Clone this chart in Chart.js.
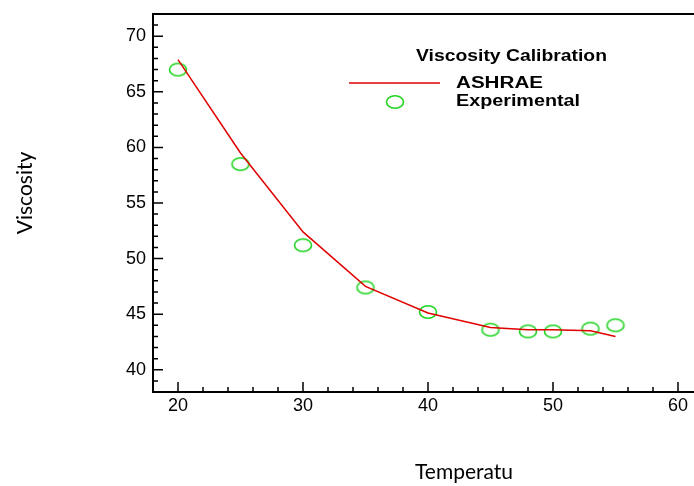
<!DOCTYPE html>
<html>
<head>
<meta charset="utf-8">
<script src="https://cdn.jsdelivr.net/npm/chart.js@4.4.0/dist/chart.umd.min.js"></script>
<style>
  html, body { margin: 0; padding: 0; background: #fff; overflow: hidden; }
  #wrap { width: 712px; height: 486px; }
</style>
</head>
<body>
<div id="wrap"><canvas id="viscChart" width="712" height="486"></canvas></div>
<script>
// temperatures / viscosity
const ashraeTemp = [20, 25, 30, 35, 40, 45, 48, 50, 53, 55];
const ashraeVisc = [67.9, 59.5, 52.4, 47.5, 45.1, 43.8, 43.6, 43.6, 43.5, 43.0];
const expTemp = [20, 25, 30, 35, 40, 45, 48, 50, 53, 55];
const expVisc = [67.0, 58.5, 51.2, 47.4, 45.2, 43.6, 43.45, 43.45, 43.7, 44.0];
const xTickLabels = [20, 30, 40, 50, 60];
const yTickLabels = [40, 45, 50, 55, 60, 65, 70];

// open green ellipse used for the experimental markers
function makeEllipse() {
    const c = document.createElement('canvas');
    c.width = 22;
    c.height = 18;
    const g = c.getContext('2d');
    g.strokeStyle = '#1fd41f';
    g.lineWidth = 1.6;
    g.beginPath();
    g.ellipse(11, 9, 8.5, 6.3, 0, 0, Math.PI * 2);
    g.stroke();
    return c;
}
const ellipse = makeEllipse();

// text stretched sideways to a given width, like the original export
function wideText(ctx, txt, x, y, w) {
    const nat = ctx.measureText(txt).width;
    ctx.save();
    ctx.translate(x, y);
    ctx.scale(w / nat, 1);
    ctx.fillText(txt, 0, 0);
    ctx.restore();
}

const framePlugin = {
    id: 'frame',
    afterDraw(chart) {
        const ctx = chart.ctx;
        const a = chart.chartArea;
        const xs = chart.scales.x, ys = chart.scales.y;
        ctx.save();
        ctx.strokeStyle = '#000';
        ctx.lineWidth = 2;
        ctx.strokeRect(a.left, a.top, a.right - a.left, a.bottom - a.top);

        // inward ticks, major + minor
        ctx.lineWidth = 1.5;
        ctx.beginPath();
        for (let v = 18; v <= 62; v += 2) {
            const px = xs.getPixelForValue(v);
            const len = v % 10 === 0 ? 10 : 5;
            ctx.moveTo(px, a.bottom);
            ctx.lineTo(px, a.bottom - len);
        }
        for (let v = 38; v <= 72; v += 1) {
            const py = ys.getPixelForValue(v);
            const len = v % 5 === 0 ? 10 : 5;
            ctx.moveTo(a.left, py);
            ctx.lineTo(a.left + len, py);
        }
        ctx.stroke();

        // legend inside the plot
        ctx.fillStyle = '#000';
        ctx.textBaseline = 'middle';
        ctx.textAlign = 'left';
        ctx.font = 'bold 16px "Liberation Sans", Arial, sans-serif';
        wideText(ctx, 'Viscosity Calibration', 416, 57, 191);
        wideText(ctx, 'ASHRAE', 456, 84, 87);
        wideText(ctx, 'Experimental', 456, 102, 124);
        ctx.strokeStyle = '#e00000';
        ctx.lineWidth = 1.5;
        ctx.beginPath();
        ctx.moveTo(349, 83);
        ctx.lineTo(440, 83);
        ctx.stroke();
        ctx.drawImage(ellipse, 395 - 11, 102 - 9);

        // axis titles
        ctx.font = '21px Lato, "Open Sans", sans-serif';
        ctx.textAlign = 'center';
        ctx.fillText('Temperatu', 464, 472);
        ctx.translate(25, 193);
        ctx.rotate(-Math.PI / 2);
        ctx.fillText('Viscosity', 0, 0);
        ctx.restore();
    }
};

new Chart(document.getElementById('viscChart').getContext('2d'), {
    type: 'scatter',
    data: {
        datasets: [
            {
                label: 'ASHRAE',
                data: ashraeTemp.map((t, i) => ({x: t, y: ashraeVisc[i]})),
                showLine: true,
                borderColor: '#e00000',
                borderWidth: 1.5,
                pointRadius: 0,
                tension: 0
            },
            {
                label: 'Experimental',
                data: expTemp.map((t, i) => ({x: t, y: expVisc[i]})),
                showLine: false,
                pointStyle: ellipse,
                pointRadius: 8
            }
        ]
    },
    options: {
        responsive: false,
        animation: false,
        layout: {padding: {top: 14, right: 9, left: 0, bottom: 0}},
        plugins: {legend: {display: false}, tooltip: {enabled: false}},
        scales: {
            x: {
                type: 'linear',
                min: 18,
                max: 62,
                grid: {display: false, drawTicks: false},
                border: {display: false},
                afterBuildTicks: s => { s.ticks = xTickLabels.map(v => ({value: v})); },
                afterFit: s => { s.height = 94; s.paddingLeft = 0; s.paddingRight = 0; },
                ticks: {
                    color: '#000',
                    padding: 3,
                    maxRotation: 0,
                    font: {family: '"Liberation Sans", Arial, sans-serif', size: 18}
                }
            },
            y: {
                type: 'linear',
                min: 38,
                max: 72,
                grid: {display: false, drawTicks: false},
                border: {display: false},
                afterBuildTicks: s => { s.ticks = yTickLabels.map(v => ({value: v})); },
                afterFit: s => { s.width = 153; s.paddingTop = 0; s.paddingBottom = 0; },
                ticks: {
                    color: '#000',
                    padding: 7,
                    font: {family: '"Liberation Sans", Arial, sans-serif', size: 18}
                }
            }
        }
    },
    plugins: [framePlugin]
});
</script>
</body>
</html>
